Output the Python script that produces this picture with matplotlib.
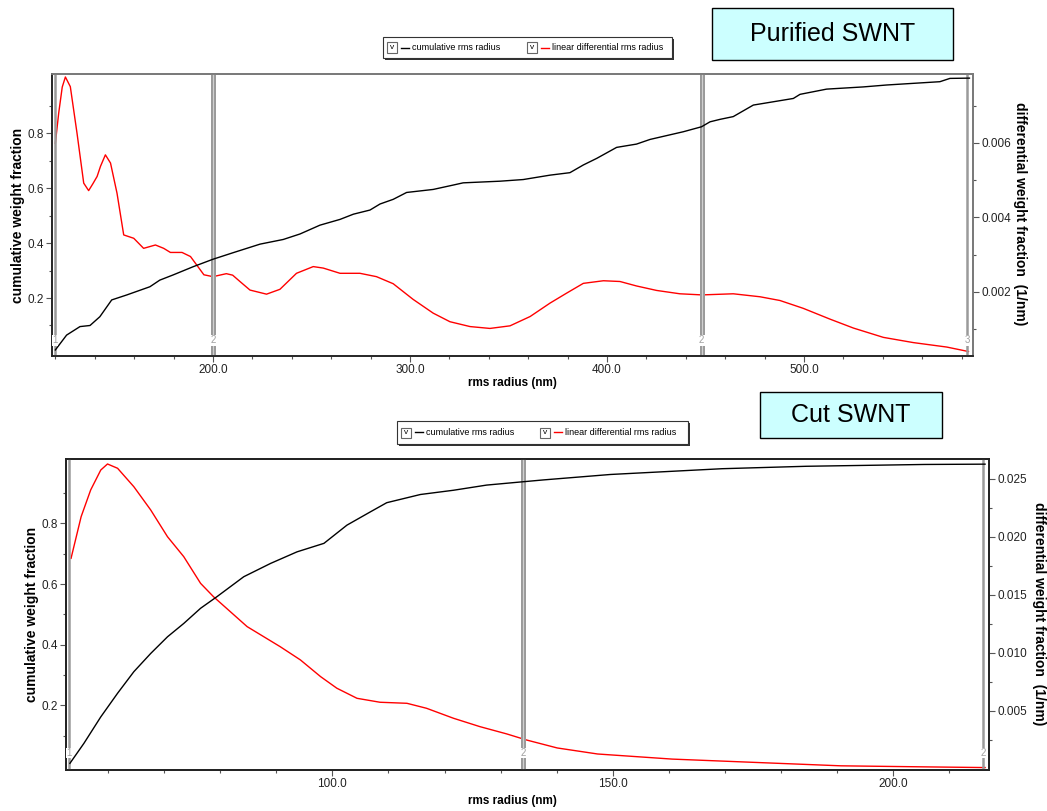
import matplotlib
matplotlib.use("Agg")
import matplotlib.pyplot as plt
from matplotlib.patches import Rectangle
from matplotlib.lines import Line2D
from matplotlib.ticker import FixedLocator, FormatStrFormatter

W, H = 1047, 811
narrow = ['Liberation Sans', 'DejaVu Sans']
sans = ['Liberation Sans', 'DejaVu Sans']

# --- Purified SWNT ---
top_x_cum = [120.0, 125.7, 132.5, 137.6, 142.6, 148.6, 156.2, 168.0, 173.0, 179.8, 190.0,
             200.0, 210.3, 223.9, 235.7, 244.2, 254.3, 264.5, 271.3, 279.7, 284.8, 291.5,
             298.3, 311.8, 322.0, 327.0, 345.7, 357.5, 371.1, 381.2, 388.0, 394.8, 404.9,
             415.0, 421.9, 438.8, 448.0, 452.3, 457.4, 464.1, 474.3, 479.4, 494.6, 498.0,
             511.5, 530.1, 542.0, 569.0, 574.1, 584.0]
top_cum = [0.011, 0.065, 0.096, 0.100, 0.132, 0.193, 0.211, 0.241, 0.265, 0.284, 0.314,
           0.341, 0.365, 0.396, 0.413, 0.433, 0.465, 0.486, 0.505, 0.520, 0.542, 0.559,
           0.584, 0.595, 0.611, 0.619, 0.625, 0.631, 0.647, 0.656, 0.684, 0.708, 0.748,
           0.760, 0.777, 0.805, 0.823, 0.841, 0.850, 0.860, 0.902, 0.908, 0.926, 0.941,
           0.960, 0.968, 0.975, 0.987, 0.999, 1.000]

top_x_diff = [120.0, 121.7, 123.5, 125.1, 127.6, 131.0, 134.4, 136.9, 139.0, 141.2, 142.9,
              145.4, 148.0, 151.3, 154.7, 159.8, 164.8, 170.8, 175.0, 178.4, 184.3, 188.6,
              195.4, 200.0, 206.8, 210.0, 213.7, 218.8, 227.2, 234.0, 242.4, 250.9, 256.0,
              264.5, 274.6, 283.0, 291.5, 301.6, 311.8, 320.3, 330.5, 340.6, 350.8, 361.0,
              371.1, 379.6, 388.0, 398.2, 406.6, 415.0, 425.2, 437.0, 448.2, 464.1, 477.7,
              487.8, 499.6, 513.2, 525.1, 540.3, 555.5, 572.5, 583.5]
top_diff = [0.00599, 0.00680, 0.00750, 0.00777, 0.00751, 0.00626, 0.00492, 0.00472, 0.00490,
            0.00510, 0.00537, 0.00568, 0.00546, 0.00465, 0.00353, 0.00344, 0.00317, 0.00326,
            0.00317, 0.00306, 0.00306, 0.00295, 0.00246, 0.00241, 0.00249, 0.00245, 0.00228,
            0.00205, 0.00194, 0.00207, 0.00250, 0.00268, 0.00264, 0.00250, 0.00250, 0.00241,
            0.00222, 0.00180, 0.00143, 0.00120, 0.00107, 0.00102, 0.00109, 0.00134, 0.00170,
            0.00197, 0.00223, 0.00230, 0.00228, 0.00216, 0.00204, 0.00195, 0.00192, 0.00195,
            0.00187, 0.00177, 0.00156, 0.00127, 0.00103, 0.00078, 0.00064, 0.00052, 0.00040]
top_markers = [120, 200, 448, 583]
top_marker_labels = ['1', '2', '2', '3']

# --- Cut SWNT ---
bot_x_cum = [53.2, 55.7, 58.7, 61.7, 64.6, 67.6, 70.6, 73.5, 76.5, 79.4, 84.2, 89.0, 93.7,
             98.5, 102.6, 106.8, 109.7, 115.7, 121.6, 127.5, 134.0, 137.6, 149.6, 169.5,
             184.5, 205.6, 216.4]
bot_cum = [0.009, 0.075, 0.162, 0.240, 0.311, 0.371, 0.426, 0.470, 0.520, 0.558, 0.624,
           0.668, 0.706, 0.734, 0.794, 0.838, 0.868, 0.895, 0.909, 0.926, 0.937, 0.943,
           0.961, 0.980, 0.988, 0.994, 0.995]

bot_x_diff = [53.4, 55.2, 56.9, 58.7, 59.9, 61.7, 64.6, 67.6, 70.6, 73.5, 76.5, 78.8, 84.8,
              90.7, 94.3, 97.9, 100.8, 104.4, 108.5, 113.3, 116.8, 121.6, 126.3, 131.1,
              134.6, 140.1, 147.3, 160.6, 175.6, 190.7, 205.6, 216.4]
bot_diff = [0.01816, 0.02175, 0.02405, 0.02577, 0.02629, 0.02592, 0.02433, 0.02233, 0.02002,
            0.01830, 0.01600, 0.01485, 0.01227, 0.01054, 0.00940, 0.00796, 0.00696, 0.00609,
            0.00575, 0.00566, 0.00523, 0.00437, 0.00365, 0.00302, 0.00250, 0.00181, 0.00129,
            0.00085, 0.00056, 0.00027, 0.00018, 0.00012]
bot_markers = [53, 134, 216]
bot_marker_labels = ['1', '2', '2']


def fx(x):
    return x / W


def fy(y):
    return 1 - y / H


fig = plt.figure(figsize=(W / 100, H / 100), dpi=100)


def panel(rect, xc, yc, xd, yd, xlim, ylim, y2lim, xmaj, xmin, y2maj, y2min,
          markers, mlabels, spine_col):
    ax = fig.add_axes(rect)
    ax2 = ax.twinx()
    ax.plot(xc, yc, color='black', lw=1.0, zorder=3)
    ax2.plot(xd, yd, color='#ff0000', lw=1.0, zorder=3)
    ax.set_xlim(*xlim)
    ax.set_ylim(*ylim)
    ax2.set_ylim(*y2lim)
    ax.xaxis.set_major_locator(FixedLocator(xmaj))
    ax.xaxis.set_minor_locator(FixedLocator(xmin))
    ax.xaxis.set_major_formatter(FormatStrFormatter('%.1f'))
    ax.yaxis.set_major_locator(FixedLocator([0.2, 0.4, 0.6, 0.8]))
    ax.yaxis.set_minor_locator(FixedLocator([0.1, 0.3, 0.5, 0.7, 0.9]))
    ax.yaxis.set_major_formatter(FormatStrFormatter('%.1f'))
    ax2.yaxis.set_major_locator(FixedLocator(y2maj))
    ax2.yaxis.set_minor_locator(FixedLocator(y2min))
    ax2.yaxis.set_major_formatter(FormatStrFormatter('%.3f'))
    for a in (ax, ax2):
        a.tick_params(which='major', length=4, width=0.8, color='#555555',
                      labelsize=8.5, pad=2, labelcolor='#222222')
        a.tick_params(which='minor', length=2.5, width=0.8, color='#555555')
        for lab in a.get_xticklabels() + a.get_yticklabels():
            lab.set_family(narrow)
        for s in a.spines.values():
            s.set_color(spine_col)
            s.set_linewidth(1.3)
    ax.patch.set_alpha(0)
    ax2.set_zorder(ax.get_zorder() - 1)
    ax2.patch.set_facecolor('white')
    ax.set_zorder(ax2.get_zorder() + 1)
    for i, (m, lab) in enumerate(zip(markers, mlabels)):
        if 0 < i < len(markers) - 1:
            ax.axvline(m, color='#9a9a9a', lw=3.6, zorder=2)
            ax.axvline(m, color='#d0d0d0', lw=0.8, zorder=2)
        else:
            ax.axvline(m, color='#9a9a9a', lw=1.8, zorder=2)
        ax.text(m, 0.055, lab, transform=ax.get_xaxis_transform(), ha='center',
                va='center', fontsize=7, color='#a0a0a0', family=narrow,
                bbox=dict(facecolor='white', edgecolor='none', pad=0.2), zorder=4)
    return ax, ax2


# top panel
ax1, ax1r = panel([fx(52), fy(356), fx(973) - fx(52), fy(74) - fy(356)],
                  top_x_cum, top_cum, top_x_diff, top_diff,
                  (118.3, 585.8), (-0.011, 1.015), (0.00028, 0.00785),
                  [200, 300, 400, 500], list(range(120, 581, 20)),
                  [0.002, 0.004, 0.006], [0.001, 0.003, 0.005, 0.007],
                  top_markers, top_marker_labels, '#7a7a7a')
ax1.spines['left'].set_color('#222222')
ax1.spines['bottom'].set_color('#222222')

# bottom panel
ax2, ax2r = panel([fx(66), fy(770), fx(989) - fx(66), fy(459) - fy(770)],
                  bot_x_cum, bot_cum, bot_x_diff, bot_diff,
                  (52.5, 217.1), (-0.013, 1.012), (-0.00009, 0.02672),
                  [100, 150, 200], list(range(60, 211, 10)),
                  [0.005, 0.010, 0.015, 0.020, 0.025],
                  [0.0025, 0.0075, 0.0125, 0.0175, 0.0225],
                  bot_markers, bot_marker_labels, '#222222')

# axis titles
lab_kw = dict(fontsize=10, fontweight='bold', family=sans, color='black')
fig.text(fx(18), fy(215), 'cumulative weight fraction', rotation=90, ha='center', va='center', **lab_kw)
fig.text(fx(1020), fy(214), 'differential weight fraction  (1/nm)', rotation=-90, ha='center', va='center', **lab_kw)
fig.text(fx(512), fy(383), 'rms radius (nm)', ha='center', va='center', fontsize=8.5,
         fontweight='bold', family=narrow)
fig.text(fx(32), fy(614), 'cumulative weight fraction', rotation=90, ha='center', va='center', **lab_kw)
fig.text(fx(1039), fy(614), 'differential weight fraction  (1/nm)', rotation=-90, ha='center', va='center', **lab_kw)
fig.text(fx(512), fy(801), 'rms radius (nm)', ha='center', va='center', fontsize=8.5,
         fontweight='bold', family=narrow)


def legend_box(x0, y0, x1, y1, x_second):
    fig.add_artist(Rectangle((fx(x0 + 2), fy(y1 + 2)), fx(x1 - x0), fy(y0) - fy(y1),
                             transform=fig.transFigure, facecolor='#333333', edgecolor='none'))
    fig.add_artist(Rectangle((fx(x0), fy(y1)), fx(x1 - x0), fy(y0) - fy(y1),
                             transform=fig.transFigure, facecolor='white',
                             edgecolor='#333333', lw=0.8))
    ym = (y0 + y1) / 2
    for xs, col, txt in [(x0 + 4, 'black', 'cumulative rms radius'),
                         (x_second, '#ff0000', 'linear differential rms radius')]:
        fig.add_artist(Rectangle((fx(xs), fy(ym + 5)), fx(10), fy(ym - 5) - fy(ym + 5),
                                 transform=fig.transFigure, facecolor='white',
                                 edgecolor='#666666', lw=0.8))
        fig.text(fx(xs + 5), fy(ym), 'v', ha='center', va='center', fontsize=6, family=sans)
        fig.add_artist(Line2D([fx(xs + 14), fx(xs + 22)], [fy(ym), fy(ym)],
                              transform=fig.transFigure, color=col, lw=1))
        fig.text(fx(xs + 25), fy(ym), txt, ha='left', va='center', fontsize=6.5, family=narrow)


legend_box(383, 37, 672, 58, 527)
legend_box(397, 421, 688, 444, 540)


def title_box(x0, y0, x1, y1, txt):
    fig.add_artist(Rectangle((fx(x0), fy(y1)), fx(x1 - x0), fy(y0) - fy(y1),
                             transform=fig.transFigure, facecolor='#ccffff',
                             edgecolor='black', lw=1.0))
    fig.text(fx((x0 + x1) / 2), fy((y0 + y1) / 2), txt, ha='center', va='center',
             fontsize=18, family=sans)


title_box(712, 8, 953, 60, 'Purified SWNT')
title_box(760, 392, 942, 438, 'Cut SWNT')

fig.savefig('out.png', dpi=100)
